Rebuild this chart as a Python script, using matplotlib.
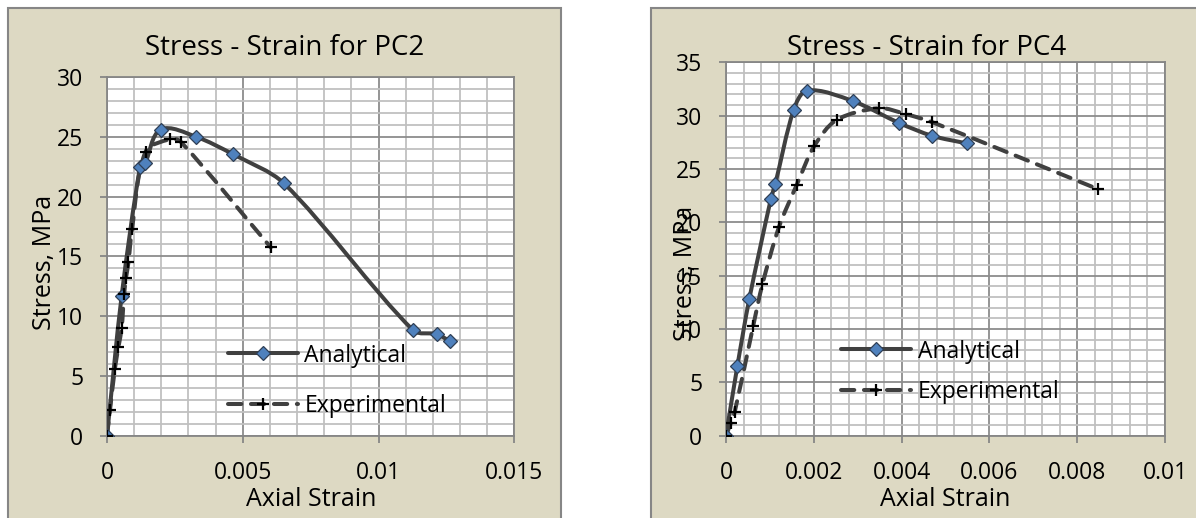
import matplotlib
matplotlib.use("Agg")
import matplotlib.pyplot as plt
import numpy as np
from matplotlib.path import Path
from matplotlib.patches import PathPatch, Rectangle
from matplotlib.lines import Line2D
from matplotlib.ticker import MultipleLocator, FuncFormatter

plt.rcParams['font.family'] = ['Open Sans', 'DejaVu Sans']

# ---- data ----
pc2_ana_strain = [0, 0.00054, 0.00122, 0.0014, 0.00198, 0.00328, 0.00463, 0.00652, 0.01128, 0.01214, 0.01263]
pc2_ana_stress = [0, 11.7, 22.5, 22.8, 25.6, 25.0, 23.55, 21.1, 8.8, 8.5, 7.9]
pc2_exp_strain = [0, 0.00011, 0.00029, 0.00042, 0.00054, 0.00063, 0.0007, 0.00079, 0.00092, 0.00142, 0.00232, 0.00271, 0.00603]
pc2_exp_stress = [0, 2.15, 5.6, 7.4, 9.0, 11.85, 13.2, 14.5, 17.3, 23.75, 24.8, 24.6, 15.75]

pc4_ana_strain = [0, 0.00026, 0.00053, 0.00102, 0.00112, 0.00154, 0.00185, 0.0029, 0.00395, 0.0047, 0.00548]
pc4_ana_stress = [0, 6.56, 12.8, 22.15, 23.56, 30.5, 32.35, 31.35, 29.3, 28.1, 27.4]
pc4_exp_strain = [0, 0.00011, 0.0002, 0.00062, 0.00083, 0.00121, 0.00161, 0.00201, 0.00252, 0.00349, 0.00409, 0.00469, 0.00848]
pc4_exp_stress = [0, 1.2, 2.25, 10.3, 14.2, 19.6, 23.5, 27.15, 29.6, 30.7, 30.15, 29.4, 23.1]

series_labels = ["Analytical", "Experimental"]
titles = ["Stress - Strain for PC2", "Stress - Strain for PC4"]
x_label = "Axial Strain"
y_label = "Stress, MPa"

W, H = 1196, 518
fig = plt.figure(figsize=(W / 100, H / 100), dpi=100)
fig.patch.set_facecolor('white')

BG = '#DDD9C3'
FRAME = '#868686'
LINE = '#404040'
BLUE = '#4F81BD'

TICK_FS = 16.5
LEG_FS = 16.5
TITLE_FS = 20
LABEL_FS = 18


def fx(px):
    return px / W


def fy(py):
    return 1 - py / H


# chart area frames
for (l, r) in [(8, 561), (651, 1230)]:
    fig.add_artist(Rectangle((fx(l), fy(540)), fx(r - l), (540 - 8) / H,
                             transform=fig.transFigure, facecolor=BG,
                             edgecolor=FRAME, lw=1.5, zorder=0))


def smooth_path(ax, xs, ys, s=0.3):
    pts = ax.transData.transform(np.column_stack([xs, ys]).astype(float))
    n = len(pts)
    dirs = []
    for i in range(n):
        a = pts[i - 1] if i > 0 else pts[i]
        b = pts[i + 1] if i < n - 1 else pts[i]
        d = b - a
        L = np.hypot(*d)
        dirs.append(d / L if L > 0 else d)
    verts = [pts[0]]
    codes = [Path.MOVETO]
    for i in range(n - 1):
        seg = np.hypot(*(pts[i + 1] - pts[i]))
        c1 = pts[i] + dirs[i] * seg * s
        c2 = pts[i + 1] - dirs[i + 1] * seg * s
        verts += [c1, c2, pts[i + 1]]
        codes += [Path.CURVE4] * 3
    verts = ax.transData.inverted().transform(np.array(verts))
    return Path(verts, codes)


DASH = (0, (3.3, 2.4))


def make_axes(rect_px, xmax, xmajor, xminor, ymax, fmt):
    l, t, r, b = rect_px
    ax = fig.add_axes([fx(l), fy(b), fx(r - l), (b - t) / H])
    ax.set_facecolor('white')
    ax.set_xlim(0, xmax)
    ax.set_ylim(0, ymax)
    ax.xaxis.set_major_locator(MultipleLocator(xmajor))
    ax.xaxis.set_minor_locator(MultipleLocator(xminor))
    ax.yaxis.set_major_locator(MultipleLocator(5))
    ax.yaxis.set_minor_locator(MultipleLocator(1))
    ax.grid(True, which='minor', color='#C0C0C0', lw=1.3, zorder=0)
    ax.grid(True, which='major', color='#8C8C8C', lw=1.3, zorder=0)
    ax.set_axisbelow(True)
    for s in ax.spines.values():
        s.set_color(FRAME)
        s.set_linewidth(1.3)
    ax.tick_params(which='major', length=5, width=1.3, color=FRAME,
                   labelsize=TICK_FS, direction='out')
    ax.tick_params(axis='y', which='major', pad=12)
    ax.tick_params(axis='x', which='major', pad=13)
    ax.tick_params(which='minor', length=0)
    ax.xaxis.set_major_formatter(FuncFormatter(fmt))
    return ax


def fmt_g(v, pos):
    s = ('%.3f' % v).rstrip('0').rstrip('.')
    return s if s else '0'


def draw_series(ax, xs, ys, dashed, marker):
    p = smooth_path(ax, xs, ys)
    patch = PathPatch(p, fill=False, edgecolor=LINE, lw=2.9,
                      linestyle=DASH if dashed else '-', capstyle='round',
                      joinstyle='round', zorder=3)
    ax.add_patch(patch)
    if marker == 'D':
        ax.plot(xs, ys, linestyle='none', marker='D', ms=6.8, mfc=BLUE,
                mec='#2F3F55', mew=0.9, zorder=4)
    else:
        ax.plot(xs, ys, linestyle='none', marker='+', ms=8, mec='black',
                mew=1.6, zorder=4)


def legend_handles():
    return [Line2D([], [], color=LINE, lw=2.9, marker='D', ms=6.8, mfc=BLUE,
                   mec='#2F3F55', mew=0.9, solid_capstyle='round'),
            Line2D([], [], color=LINE, lw=2.9, linestyle=DASH, marker='+',
                   ms=8, mec='black', mew=1.6, dash_capstyle='round')]


# ---- left chart ----
ax1 = make_axes((107, 77, 514.3, 435.7), 0.015, 0.005, 0.001, 30, fmt_g)
draw_series(ax1, pc2_ana_strain, pc2_ana_stress, False, 'D')
draw_series(ax1, pc2_exp_strain, pc2_exp_stress, True, '+')
ax1.legend(legend_handles(), series_labels, loc='upper left',
           bbox_to_anchor=(fx(227.5), fy(343.5)), bbox_transform=fig.transFigure,
           frameon=False, fontsize=LEG_FS, handlelength=3.06, handletextpad=0.3,
           labelspacing=1.17, borderpad=0, borderaxespad=0)

fig.text(fx(284.5), fy(48), titles[0], ha='center', va='center', fontsize=TITLE_FS)
fig.text(fx(311), fy(500), x_label, ha='center', va='center', fontsize=LABEL_FS)
fig.text(fx(45), fy(262), y_label, ha='center', va='center', fontsize=LABEL_FS, rotation=90)

# ---- right chart ----
ax2 = make_axes((726, 62.3, 1165, 435.7), 0.01, 0.002, 0.0004, 35, fmt_g)
draw_series(ax2, pc4_ana_strain, pc4_ana_stress, False, 'D')
draw_series(ax2, pc4_exp_strain, pc4_exp_stress, True, '+')
ax2.legend(legend_handles(), series_labels, loc='upper left',
           bbox_to_anchor=(fx(840.5), fy(339.5)), bbox_transform=fig.transFigure,
           frameon=False, fontsize=LEG_FS, handlelength=3.06, handletextpad=0.3,
           labelspacing=0.72, borderpad=0, borderaxespad=0)

fig.text(fx(927), fy(48), titles[1], ha='center', va='center', fontsize=TITLE_FS)
fig.text(fx(945), fy(500), x_label, ha='center', va='center', fontsize=LABEL_FS)
fig.text(fx(686), fy(273), y_label, ha='center', va='center', fontsize=LABEL_FS, rotation=90)

fig.savefig('out.png', dpi=100, facecolor='white')
